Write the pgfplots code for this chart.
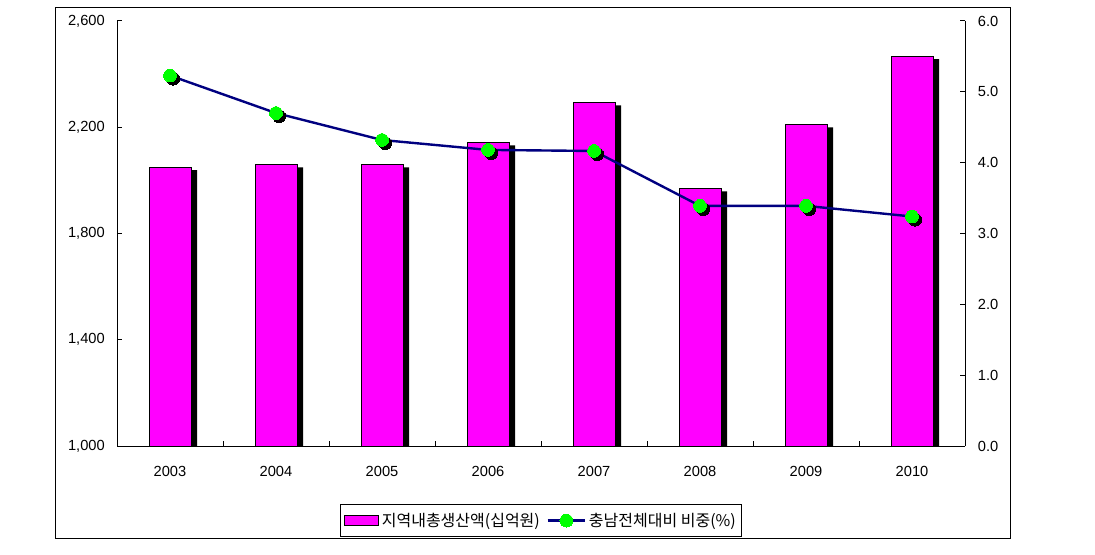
\documentclass[border=0pt]{standalone}
\usepackage{pgfplots}
\pgfplotsset{compat=1.18}
\usepackage{pgfplotstable}
\usepackage{fontspec}
\setmainfont{Liberation Sans}
\newfontfamily\kr{Noto Sans CJK KR}
\definecolor{barpink}{RGB}{255,0,255}
\definecolor{ptgreen}{RGB}{0,255,0}
\definecolor{navyline}{RGB}{0,0,128}

\pgfplotsset{
  lineleg/.style={legend image code/.code={\draw[mark repeat=2,mark phase=2,##1] plot coordinates {(0pt,0pt) (14pt,0pt) (28pt,0pt)};}},
  barleg/.style={legend image code/.code={\draw[fill=barpink,draw=black,line width=0.75pt] (0pt,-4pt) rectangle (26pt,4pt);}},
}

\pgfplotstableread{
x val share
0 2050 5.23
1 2060 4.70
2 2060 4.32
3 2143 4.18
4 2294 4.165
5 1970 3.39
6 2211 3.39
7 2468 3.24
}\data

\begin{document}
\begin{tikzpicture}[x=0.75pt,y=0.75pt]
\useasboundingbox (0,0) rectangle (1095,554);
\draw[line width=0.75pt] (55,16) rectangle (1010,546);
\pgfplotsset{
  common/.style={
    at={(87.75pt,81pt)}, anchor=south west,
    scale only axis, width=636pt, height=318.75pt,
    xmin=-0.5, xmax=7.5,
    tick align=inside,
    axis line style={line width=0.75pt},
    tick style={line width=0.75pt, black},
    major tick length=4pt,
    ticklabel style={font=\fontsize{11}{13}\selectfont},
    /pgf/number format/assume math mode=true,
  }
}
\begin{axis}[common,
  ymin=1000, ymax=2600, ytick={1000,1400,...,2600},
  axis y line*=left, axis x line*=bottom,
  xtick={0.5,1.5,...,6.5}, xticklabels={},
  extra x ticks={0,1,2,3,4,5,6,7},
  extra x tick labels={2003,2004,2005,2006,2007,2008,2009,2010},
  extra x tick style={major tick length=0pt},
  xticklabel style={inner sep=0pt, yshift=-15pt},
  yticklabel style={inner sep=0pt, xshift=-9pt},
]
\addplot[ybar, bar width=31.5pt, bar shift=0pt, fill=black, draw=none, forget plot,
  transform canvas={xshift=4.5pt,yshift=-2.25pt}] table[x=x,y=val]{\data};
\addplot[ybar, bar width=31.5pt, bar shift=0pt, fill=barpink, draw=black, line width=0.75pt] table[x=x,y=val]{\data};
\end{axis}
\begin{axis}[common,
  ymin=0, ymax=6, ytick={0,1,...,6},
  axis y line*=right, axis x line=none,
  yticklabel style={inner sep=0pt, xshift=9.5pt, /pgf/number format/.cd, fixed, fixed zerofill, precision=1},
  legend columns=2,
  legend style={at={(0.5,-0.136)}, anchor=north, draw=black, line width=0.75pt,
    font=\kr\fontsize{12}{14}\selectfont, inner xsep=2pt, inner ysep=4.5pt,
    /tikz/every even column/.append style={column sep=3pt}},
]
\addlegendimage{barleg}
\addlegendentry{지역내총생산액(십억원)}
\addplot[only marks, mark=*, mark size=4.8pt, mark options={fill=black, draw=black, line width=0pt}, forget plot,
  transform canvas={xshift=1.2pt,yshift=-1.2pt}] table[x=x,y=share]{\data};
\addplot[navyline, line width=1.8pt, mark=*, mark size=4.8pt, mark options={fill=ptgreen, draw=ptgreen, line width=0pt}, lineleg]
  table[x=x,y=share]{\data};
\addlegendentry{충남전체대비 비중(\%)}
\end{axis}
\end{tikzpicture}
\end{document}
